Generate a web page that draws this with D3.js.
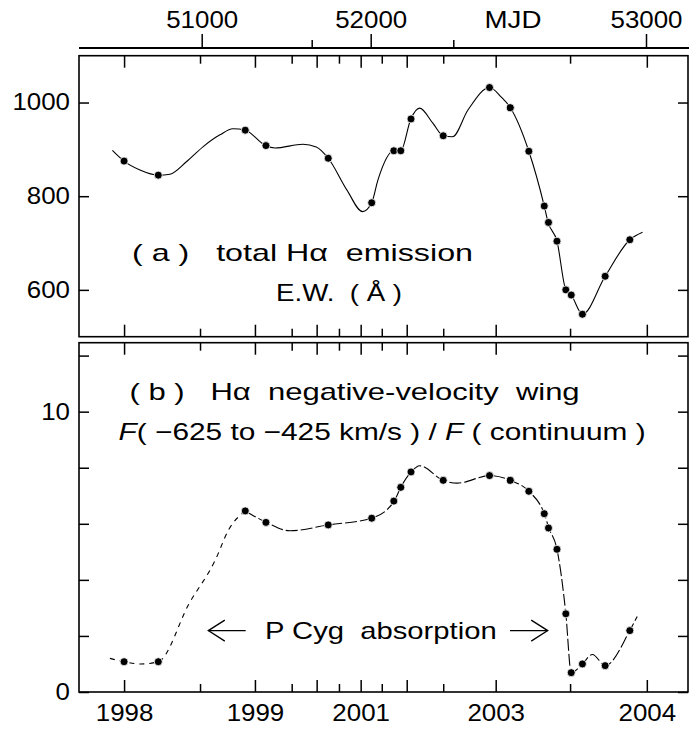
<!DOCTYPE html>
<html>
<head>
<meta charset="utf-8">
<script src="https://cdn.jsdelivr.net/npm/d3@7"></script>
<style>
  body { margin: 0; background: #fff; }
  text { font-family: "Liberation Sans", Arial, sans-serif; fill: #000; }
</style>
</head>
<body>
<div id="chart"></div>
<script>
// observation dates (MJD), shared by both panels
var obsMjd = [50814, 50896, 51198, 51292, 51640, 52006, 52140, 52182, 52244, 52439, 52594,
              52648, 52696, 52736, 52747, 52769, 52792, 52806, 52835, 52894, 52958];
// (a) total H-alpha emission E.W. (A)
var ewTotal = [875, 845, 941, 908, 881, 786, 897, 897, 965, 929, 1032,
               989, 896, 779, 744, 704, 600, 589, 548, 629, 707];
// (b) negative-velocity wing flux / continuum
var wingRatio = [1.08, 1.08, 6.46, 6.05, 5.96, 6.2, 6.81, 7.30, 7.85, 7.55, 7.72,
                 7.55, 7.16, 6.36, 5.85, 5.09, 2.79, 0.69, 1.0, 0.94, 2.19];

// smooth fitted curves
var fitAMjd = [50786, 50814, 50852, 50896, 50924, 50964, 51007, 51083, 51142, 51198, 51291, 51333,
               51460, 51539, 51640, 51799, 51931, 52006, 52044, 52140, 52182, 52243, 52296, 52376,
               52439, 52495, 52538, 52594, 52624, 52648, 52696, 52736, 52746, 52769, 52792, 52806,
               52835, 52894, 52958, 52991];
var fitAVal = [898, 875, 856, 845, 847, 874, 906, 931, 944, 941, 908, 903,
               911, 905, 881, 813, 767, 786, 835, 897, 897, 965, 988, 956,
               929, 927, 984, 1032, 1012, 989, 896, 779, 744, 704, 600, 589,
               548, 629, 707, 723];
var fitBMjd = [50780, 50814, 50854, 50896, 50970, 51062, 51122, 51198, 51294, 51401, 51640, 52006,
               52142, 52182, 52245, 52296, 52439, 52510, 52595, 52648, 52696, 52736, 52748, 52769,
               52792, 52806, 52835, 52861, 52894, 52958, 52977];
var fitBVal = [1.2, 1.08, 1.0, 1.08, 3.16, 4.71, 5.78, 6.46, 6.05, 5.75, 5.96, 6.2,
               6.81, 7.30, 7.85, 8.07, 7.55, 7.45, 7.72, 7.55, 7.16, 6.36, 5.85, 5.09,
               2.79, 0.69, 1.0, 1.34, 0.94, 2.19, 2.69];
var fitBDashedUntil = 7; // rising part drawn dashed

// axis ticks
var mjdMajor = [51000, 52000, 53000];
var mjdMinor = [51500, 52500];
var frameMajor = [50814, 51242, 51542, 51915, 52218, 52610, 53002];
var frameMinor = [50996, 51409, 51731, 52067, 52439, 52803];
var yearTicks = [50814, 51242, 51915, 52610, 53002];
var yearLabels = ["1998", "1999", "2001", "2003", "2004"];
var ewTicks = [600, 800, 1000];
var ratioTicks = [0, 2, 4, 6, 8, 10, 12];
var ratioLabelled = [0, 10];

// P Cyg arrows (MJD span, ratio level)
var arrowLeft = [51030, 51200];
var arrowRight = [52647, 52745];
var arrowLevel = 2.19;

var W = 689, H = 730;
var L = 79, R = 688;
var aTop = 55.7, aBot = 336.7, bTop = 342.7, bBot = 692;

var svg = d3.select("#chart").append("svg")
  .attr("width", W).attr("height", H);

// the MJD axis of the figure is not linear: piecewise scale
var x = d3.scaleLinear()
  .domain([50706, 51000, 51500, 52000, 52500, 53000, 53102])
  .range([L, 201.7, 311.7, 370.7, 453.3, 646, R]);

var yA = d3.scaleLinear().domain([500, 1100]).range([aBot, aTop]);
var yB = d3.scaleLinear().domain([0, 12.46]).range([bBot, bTop]);

var fs = 23, digitW = 14.4;

function fixLabels(g) {
  g.select(".domain").remove();
  g.selectAll("line").attr("stroke", "#000").attr("stroke-width", 1.5);
  g.selectAll("text")
    .attr("font-size", fs)
    .attr("font-family", null)
    .attr("fill", "#000")
    .attr("textLength", function () { return this.textContent.length ? this.textContent.length * digitW : null; })
    .attr("lengthAdjust", "spacingAndGlyphs");
}

// top MJD axis
svg.append("line")
  .attr("x1", L).attr("x2", W).attr("y1", 48).attr("y2", 48)
  .attr("stroke", "#000").attr("stroke-width", 1.8);
svg.append("g").attr("transform", "translate(0,48)")
  .call(d3.axisTop(x).tickValues(mjdMajor).tickSize(14).tickPadding(6).tickFormat(d3.format("d")))
  .call(fixLabels);
svg.append("g").attr("transform", "translate(0,48)")
  .call(d3.axisTop(x).tickValues(mjdMinor).tickSize(8).tickFormat(""))
  .call(fixLabels);
svg.append("text").attr("x", 513).attr("y", 28.3).attr("text-anchor", "middle")
  .attr("font-size", fs).attr("textLength", 3 * 19).attr("lengthAdjust", "spacingAndGlyphs")
  .text("MJD");

// panel frames with inward ticks
function panelFrame(top, bot, y, ticks, fmt) {
  svg.append("rect")
    .attr("x", L).attr("y", top).attr("width", R - L).attr("height", bot - top)
    .attr("fill", "none").attr("stroke", "#000").attr("stroke-width", 1.6);
  [[frameMajor, 12], [frameMinor, 8]].forEach(function (t) {
    svg.append("g").attr("transform", "translate(0," + top + ")")
      .call(d3.axisTop(x).tickValues(t[0]).tickSize(-t[1]).tickFormat(""))
      .call(fixLabels);
    svg.append("g").attr("transform", "translate(0," + bot + ")")
      .call(d3.axisBottom(x).tickValues(t[0]).tickSize(-t[1]).tickFormat(""))
      .call(fixLabels);
  });
  svg.append("g").attr("transform", "translate(" + L + ",0)")
    .call(d3.axisLeft(y).tickValues(ticks).tickSize(-10).tickPadding(9).tickFormat(fmt))
    .call(fixLabels);
  svg.append("g").attr("transform", "translate(" + R + ",0)")
    .call(d3.axisRight(y).tickValues(ticks).tickSize(-10).tickFormat(""))
    .call(fixLabels);
}
panelFrame(aTop, aBot, yA, ewTicks, d3.format("d"));
panelFrame(bTop, bBot, yB, ratioTicks, function (d) { return ratioLabelled.indexOf(d) >= 0 ? d : ""; });

// year labels under the bottom panel
svg.append("g").attr("transform", "translate(0," + bBot + ")")
  .call(d3.axisBottom(x).tickValues(yearTicks).tickSize(0).tickPadding(13)
    .tickFormat(function (d, i) { return yearLabels[i]; }))
  .call(fixLabels);

// curves
var lineA = d3.line().curve(d3.curveMonotoneX)
  .x(function (d) { return x(d[0]); }).y(function (d) { return yA(d[1]); });
var lineB = d3.line().curve(d3.curveMonotoneX)
  .x(function (d) { return x(d[0]); }).y(function (d) { return yB(d[1]); });

var fitA = d3.zip(fitAMjd, fitAVal);
var fitB = d3.zip(fitBMjd, fitBVal);

svg.append("path").attr("d", lineA(fitA))
  .attr("fill", "none").attr("stroke", "#000").attr("stroke-width", 1.1);
svg.append("path").attr("d", lineB(fitB.slice(0, fitBDashedUntil + 1)))
  .attr("fill", "none").attr("stroke", "#000").attr("stroke-width", 1.1)
  .attr("stroke-dasharray", "5,5");
svg.append("path").attr("d", lineB(fitB.slice(fitBDashedUntil)))
  .attr("fill", "none").attr("stroke", "#000").attr("stroke-width", 1.1)
  .attr("stroke-dasharray", "12,3");

// dots
svg.append("g").selectAll("circle")
  .data(d3.zip(obsMjd, ewTotal)).enter().append("circle")
  .attr("cx", function (d) { return x(d[0]); })
  .attr("cy", function (d) { return yA(d[1]); })
  .attr("r", 4).attr("fill", "#000").attr("stroke", "#fff").attr("stroke-width", 0.8);
svg.append("g").selectAll("circle")
  .data(d3.zip(obsMjd, wingRatio)).enter().append("circle")
  .attr("cx", function (d) { return x(d[0]); })
  .attr("cy", function (d) { return yB(d[1]); })
  .attr("r", 4).attr("fill", "#000").attr("stroke", "#fff").attr("stroke-width", 0.8);

// panel labels
function label(txt, xPos, yPos, len) {
  return svg.append("text")
    .attr("x", xPos).attr("y", yPos)
    .attr("font-size", 24)
    .attr("textLength", len).attr("lengthAdjust", "spacingAndGlyphs")
    .style("white-space", "pre")
    .text(txt);
}
label("( a )   total H\u03b1  emission", 132, 261, 341);
label("E.W.  ( \u00c5 )", 276, 301, 126);
label("( b )   H\u03b1  negative-velocity  wing", 129.6, 400, 450);

var t4 = svg.append("text").attr("x", 118.6).attr("y", 439.5)
  .attr("font-size", 24).attr("textLength", 527).attr("lengthAdjust", "spacingAndGlyphs")
  .style("white-space", "pre");
t4.append("tspan").attr("font-style", "italic").text("F");
t4.append("tspan").text("( \u2212625 to \u2212425 km/s ) / ");
t4.append("tspan").attr("font-style", "italic").text("F");
t4.append("tspan").text(" ( continuum )");

label("P Cyg  absorption", 265, 638.5, 231.7);

// arrows
function arrow(x0, x1, tipAtStart) {
  var yy = yB(arrowLevel);
  var tip = tipAtStart ? x(x0) : x(x1);
  var back = tipAtStart ? 16.5 : -16.5;
  var g = svg.append("g").attr("stroke", "#000").attr("stroke-width", 1.3).attr("fill", "none");
  g.append("line").attr("x1", x(x0)).attr("x2", x(x1)).attr("y1", yy).attr("y2", yy);
  g.append("path").attr("d", "M" + (tip + back) + "," + (yy - 10.5) + "L" + tip + "," + yy + "L" + (tip + back) + "," + (yy + 10.5));
}
arrow(arrowLeft[0], arrowLeft[1], true);
arrow(arrowRight[0], arrowRight[1], false);
</script>
</body>
</html>
